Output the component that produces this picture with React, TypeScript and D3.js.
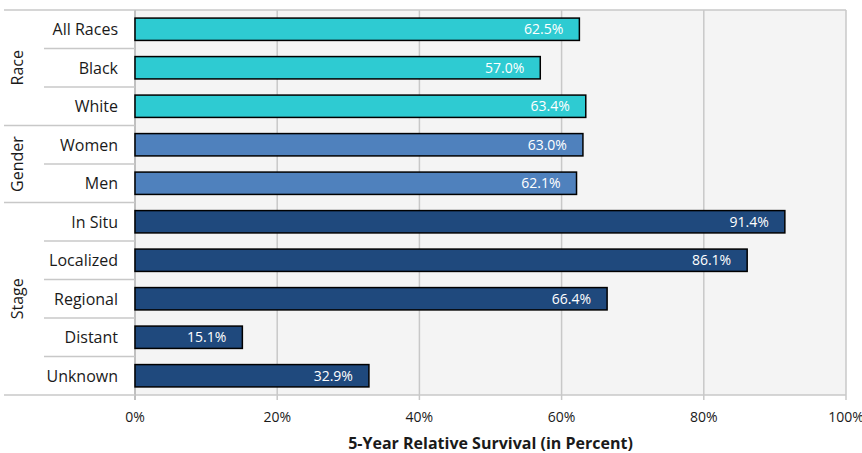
import React from "react";
import * as d3 from "d3";

const categories = ["All Races", "Black", "White", "Women", "Men", "In Situ", "Localized", "Regional", "Distant", "Unknown"];
const values = [62.5, 57.0, 63.4, 63.0, 62.1, 91.4, 86.1, 66.4, 15.1, 32.9];
const groupOf = ["Race", "Race", "Race", "Gender", "Gender", "Stage", "Stage", "Stage", "Stage", "Stage"];
const groups = ["Race", "Gender", "Stage"];
const groupColors: Record<string, string> = { Race: "#2ecbd2", Gender: "#4f81bd", Stage: "#1f497d" };
const xTicks = [0, 20, 40, 60, 80, 100];
const xTitle = "5-Year Relative Survival (in Percent)";

const W = 862;
const H = 453;
const left = 135;
const right = 846;
const top = 10;
const bottom = 395;
const FONT = "'Open Sans', 'Noto Sans', sans-serif";
const GRID = "#c8c8c8";

export default function App() {
  const x = d3.scaleLinear().domain([0, 100]).range([left, right]);
  const y = d3.scaleBand<string>().domain(categories).range([top, bottom]).padding(0);
  const bw = y.bandwidth();
  const barH = bw * 0.58;

  const groupRanges = groups.map((g) => {
    const idx = categories.map((c, i) => i).filter((i) => groupOf[i] === g);
    const y0 = y(categories[idx[0]])!;
    const y1 = y(categories[idx[idx.length - 1]])! + bw;
    return { g, y0, y1 };
  });

  return (
    <svg width={W} height={H} style={{ position: "absolute", left: 0, top: 0 }} fontFamily={FONT}>
      <rect x={0} y={0} width={W} height={H} fill="#fff" />
      <rect x={left} y={top} width={right - left} height={bottom - top} fill="#f4f4f4" />
      {xTicks.map((t) => (
        <g key={t}>
          <line x1={x(t)} x2={x(t)} y1={top} y2={bottom + 5} stroke={GRID} strokeWidth={1.5} />
          <text x={x(t)} y={421.5} textAnchor="middle" fontSize={14} fill="#1a1a1a">
            {t}%
          </text>
        </g>
      ))}
      <line x1={left} x2={right} y1={top} y2={top} stroke={GRID} strokeWidth={1.5} />
      <line x1={left} x2={right} y1={bottom} y2={bottom} stroke={GRID} strokeWidth={1.5} />
      <line x1={left} x2={left} y1={top} y2={bottom + 5} stroke="#c0c0c0" strokeWidth={2} />
      {categories.map((c, i) => {
        if (i === 0) return null;
        const yy = y(c)!;
        const isGroupStart = groupOf[i] !== groupOf[i - 1];
        return <line key={c} x1={isGroupStart ? 4 : 44} x2={left} y1={yy} y2={yy} stroke={GRID} strokeWidth={1.5} />;
      })}
      <line x1={4} x2={left} y1={top} y2={top} stroke={GRID} strokeWidth={1.5} />
      <line x1={4} x2={left} y1={bottom} y2={bottom} stroke={GRID} strokeWidth={1.5} />
      {groupRanges.map(({ g, y0, y1 }) => (
        <text
          key={g}
          transform={`translate(23,${(y0 + y1) / 2}) rotate(-90)`}
          textAnchor="middle"
          fontSize={16}
          fill="#1a1a1a"
        >
          {g}
        </text>
      ))}
      {categories.map((c, i) => {
        const cy = y(c)! + bw / 2;
        const xe = x(values[i]);
        return (
          <g key={c}>
            <text x={118} y={cy} dy="0.36em" textAnchor="end" fontSize={16} fill="#1a1a1a">
              {c}
            </text>
            <rect
              x={x(0)}
              y={cy - barH / 2}
              width={xe - x(0)}
              height={barH}
              fill={groupColors[groupOf[i]]}
              stroke="#000"
              strokeWidth={1.5}
            />
            <text x={xe - 16} y={cy} dy="0.36em" textAnchor="end" fontSize={14} fill="#fff">
              {values[i].toFixed(1)}%
            </text>
          </g>
        );
      })}
      <text x={(left + right) / 2} y={449} textAnchor="middle" fontSize={16} fontWeight="bold" fill="#1a1a1a">
        {xTitle}
      </text>
    </svg>
  );
}
